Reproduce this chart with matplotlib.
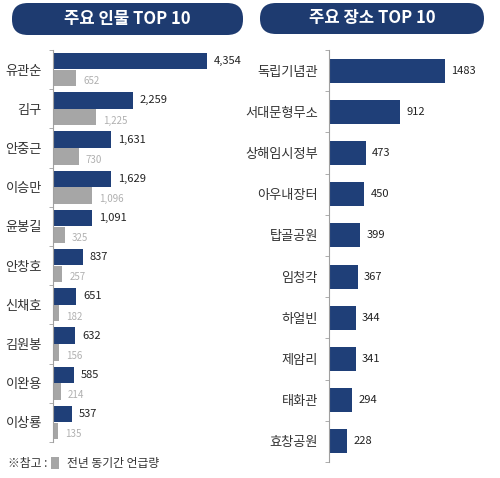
import numpy as np
import matplotlib.pyplot as plt
from matplotlib.patches import FancyBboxPatch, Rectangle

plt.rcParams['font.family'] = ['Noto Sans CJK KR', 'DejaVu Sans']

# ---- data ----
people = ['유관순', '김구', '안중근', '이승만', '윤봉길', '안창호', '신채호', '김원봉', '이완용', '이상룡']
people_now = [4354, 2259, 1631, 1629, 1091, 837, 651, 632, 585, 537]
people_prev = [652, 1225, 730, 1096, 325, 257, 182, 156, 214, 135]

places = ['독립기념관', '서대문형무소', '상해임시정부', '아우내장터', '탑골공원',
          '임청각', '하얼빈', '제암리', '태화관', '효창공원']
place_counts = [1483, 912, 473, 450, 399, 367, 344, 341, 294, 228]

NAVY = '#1f3f78'
GREY = '#a6a6a6'
SPINE = '#a0a0a0'

fig = plt.figure(figsize=(5.0, 4.78), dpi=100)

def style_axis(ax, n):
    for s in ['top', 'right', 'bottom']:
        ax.spines[s].set_visible(False)
    ax.spines['left'].set_color(SPINE)
    ax.set_xticks([])
    ax.set_ylim(n - 0.5, -0.5)
    ax.set_yticks(np.arange(n))
    ax.tick_params(axis='y', which='major', length=0, pad=8, labelsize=9.5, labelcolor='#333333')
    ax.set_yticks(np.arange(n + 1) - 0.5, minor=True)
    ax.tick_params(axis='y', which='minor', length=3, color=SPINE)

# ---- left: people ----
ax1 = fig.add_axes([0.106, 0.0753, 0.378, 0.8201])
y = np.arange(len(people))
ax1.barh(y - 0.215, people_now, height=0.42, color=NAVY)
ax1.barh(y + 0.215, people_prev, height=0.42, color=GREY)
ax1.set_xlim(0, 5340)
style_axis(ax1, len(people))
ax1.set_yticklabels(people)
for i, (a, b) in enumerate(zip(people_now, people_prev)):
    ax1.text(a + 200, i - 0.215, f'{a:,}', va='center', ha='left', fontsize=8, color='#222222')
    ax1.text(b + 200, i + 0.3, f'{b:,}', va='center', ha='left', fontsize=7, color='#b0b0b0')

# ---- right: places ----
ax2 = fig.add_axes([0.658, 0.0335, 0.322, 0.8619])
y2 = np.arange(len(places))
ax2.barh(y2, place_counts, height=0.58, color=NAVY)
ax2.set_xlim(0, 2060)
style_axis(ax2, len(places))
ax2.set_yticklabels(places)
for i, v in enumerate(place_counts):
    ax2.text(v + 80, i, f'{v}', va='center', ha='left', fontsize=8, color='#222222')

# ---- title pills ----
def pill(x0, x1, y0, y1, text):
    W, H = 500, 478
    box = FancyBboxPatch((x0 / W, 1 - y1 / H), (x1 - x0) / W, (y1 - y0) / H,
                         boxstyle='round,pad=0,rounding_size=0.032',
                         transform=fig.transFigure, facecolor='#1e3b70',
                         edgecolor='none', mutation_aspect=1)
    fig.patches.append(box)
    fig.text((x0 + x1) / 2 / W, 1 - (y0 + y1) / 2 / H, text, ha='center', va='center',
             color='white', fontsize=12, fontweight='bold')

pill(12, 243, 3, 35, '주요 인물 TOP 10')
pill(260, 484, 3, 34, '주요 장소 TOP 10')

# ---- legend note ----
fig.text(8 / 500, 1 - 463 / 478, '※참고 :', ha='left', va='center', fontsize=8.5, color='#333333')
fig.patches.append(Rectangle((51 / 500, 1 - 469 / 478), 8 / 500, 12 / 478,
                             transform=fig.transFigure, facecolor=GREY, edgecolor='none'))
fig.text(67 / 500, 1 - 463 / 478, '전년 동기간 언급량', ha='left', va='center', fontsize=8.5, color='#333333')

fig.savefig('out.png', dpi=100)
